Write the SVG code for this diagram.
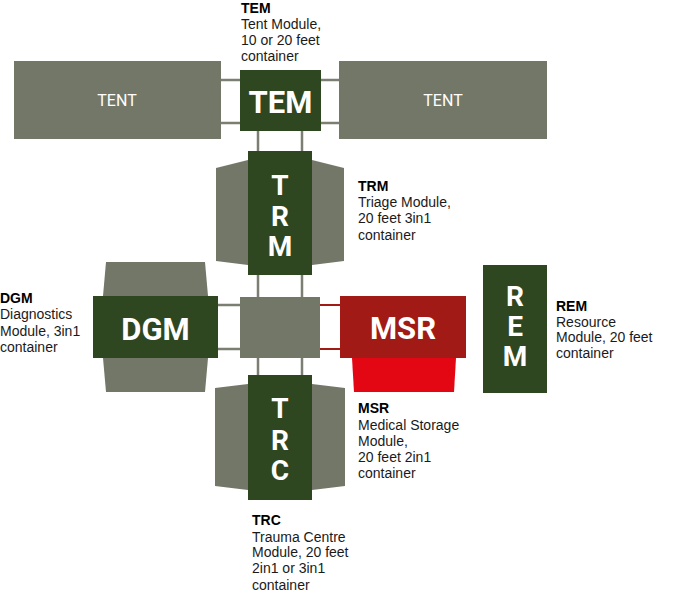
<svg xmlns="http://www.w3.org/2000/svg" width="682" height="594" viewBox="0 0 682 594">
  <style>
    .dark { fill: #2f4720; }
    .gray { fill: #737767; }
    .red { fill: #a21a15; }
    .bright { fill: #e30613; }
    .big { font-family: Roboto, "DejaVu Sans", sans-serif; font-weight: 700; font-size: 31px; fill: #ffffff; text-anchor: middle; }
    .vert { font-family: Roboto, "DejaVu Sans", sans-serif; font-weight: 700; font-size: 28px; fill: #ffffff; text-anchor: middle; }
    .tent { font-family: Roboto, "DejaVu Sans", sans-serif; font-size: 16px; fill: #ffffff; text-anchor: middle; }
    .lbl { font-family: "Liberation Sans", Arial, sans-serif; font-size: 14px; fill: #1a1a1a; }
    .lbl .t { font-weight: 700; fill: #000000; }
    .conn { stroke: #7b7f71; stroke-width: 2.5; fill: none; }
    .connr { stroke: #a21a15; stroke-width: 2; fill: none; }
  </style>

  <g id="connectors">
    <line class="conn" x1="221" y1="80" x2="241" y2="80"/>
    <line class="conn" x1="221" y1="123" x2="241" y2="123"/>
    <line class="conn" x1="320" y1="80" x2="340" y2="80"/>
    <line class="conn" x1="320" y1="123" x2="340" y2="123"/>
    <line class="conn" x1="258" y1="130" x2="258" y2="152"/>
    <line class="conn" x1="302" y1="130" x2="302" y2="152"/>
    <line class="conn" x1="258" y1="274" x2="258" y2="297"/>
    <line class="conn" x1="302" y1="274" x2="302" y2="297"/>
    <line class="conn" x1="258" y1="358" x2="258" y2="375"/>
    <line class="conn" x1="302" y1="358" x2="302" y2="375"/>
    <line class="conn" x1="218" y1="305" x2="240" y2="305"/>
    <line class="conn" x1="218" y1="349" x2="240" y2="349"/>
    <line class="connr" x1="320" y1="305" x2="340" y2="305"/>
    <line class="connr" x1="320" y1="349" x2="340" y2="349"/>
  </g>

  <g id="tent-left">
    <rect class="gray" x="14" y="61" width="207" height="78"/>
    <text class="tent" x="117" y="106">TENT</text>
  </g>

  <g id="tent-right">
    <rect class="gray" x="339" y="61" width="208" height="78"/>
    <text class="tent" x="443" y="106">TENT</text>
  </g>

  <g id="tem">
    <rect class="dark" x="240" y="70" width="81" height="61"/>
    <text class="big" x="280.5" y="112.5">TEM</text>
    <text class="lbl" x="241" y="13"><tspan class="t">TEM</tspan><tspan x="241" y="29">Tent Module,</tspan><tspan x="241" y="45">10 or 20 feet</tspan><tspan x="241" y="61">container</tspan></text>
  </g>

  <g id="trm">
    <polygon class="gray" points="216,168 248,160 248,265 216,261"/>
    <polygon class="gray" points="344,168 312,160 312,265 344,261"/>
    <rect class="dark" x="248" y="151" width="64" height="124"/>
    <text class="vert" x="280" y="195">T</text>
    <text class="vert" x="280" y="226">R</text>
    <text class="vert" x="280" y="256">M</text>
    <text class="lbl" x="358" y="191"><tspan class="t">TRM</tspan><tspan x="358" y="207">Triage Module,</tspan><tspan x="358" y="223">20 feet 3in1</tspan><tspan x="358" y="240">container</tspan></text>
  </g>

  <g id="center">
    <rect class="gray" x="240" y="297" width="80" height="61"/>
  </g>

  <g id="dgm">
    <polygon class="gray" points="106,262 205,262 208,296 103,296"/>
    <polygon class="gray" points="103,358 208,358 205,392 106,392"/>
    <rect class="dark" x="93" y="296" width="125" height="62"/>
    <text class="big" x="155.5" y="340">DGM</text>
    <text class="lbl" x="0" y="303"><tspan class="t">DGM</tspan><tspan x="0" y="319">Diagnostics</tspan><tspan x="0" y="336">Module, 3in1</tspan><tspan x="0" y="352">container</tspan></text>
  </g>

  <g id="msr">
    <polygon class="bright" points="352,358 456,358 454,392 354,392"/>
    <rect class="red" x="340" y="296" width="126" height="62"/>
    <text class="big" x="403" y="339">MSR</text>
    <text class="lbl" x="358" y="413"><tspan class="t">MSR</tspan><tspan x="358" y="430">Medical Storage</tspan><tspan x="358" y="446">Module,</tspan><tspan x="358" y="462">20 feet 2in1</tspan><tspan x="358" y="478">container</tspan></text>
  </g>

  <g id="rem">
    <rect class="dark" x="483" y="265" width="64" height="128"/>
    <text class="vert" x="515" y="306">R</text>
    <text class="vert" x="515" y="336">E</text>
    <text class="vert" x="515" y="366">M</text>
    <text class="lbl" x="556" y="311"><tspan class="t">REM</tspan><tspan x="556" y="327">Resource</tspan><tspan x="556" y="342">Module, 20 feet</tspan><tspan x="556" y="358">container</tspan></text>
  </g>

  <g id="trc">
    <polygon class="gray" points="215,388 248,384 248,490 215,486"/>
    <polygon class="gray" points="345,388 312,384 312,490 345,486"/>
    <rect class="dark" x="248" y="375" width="64" height="125"/>
    <text class="vert" x="280" y="418">T</text>
    <text class="vert" x="280" y="450">R</text>
    <text class="vert" x="280" y="480">C</text>
    <text class="lbl" x="252" y="525"><tspan class="t">TRC</tspan><tspan x="252" y="542">Trauma Centre</tspan><tspan x="252" y="557">Module, 20 feet</tspan><tspan x="252" y="573">2in1 or 3in1</tspan><tspan x="252" y="590">container</tspan></text>
  </g>
</svg>
